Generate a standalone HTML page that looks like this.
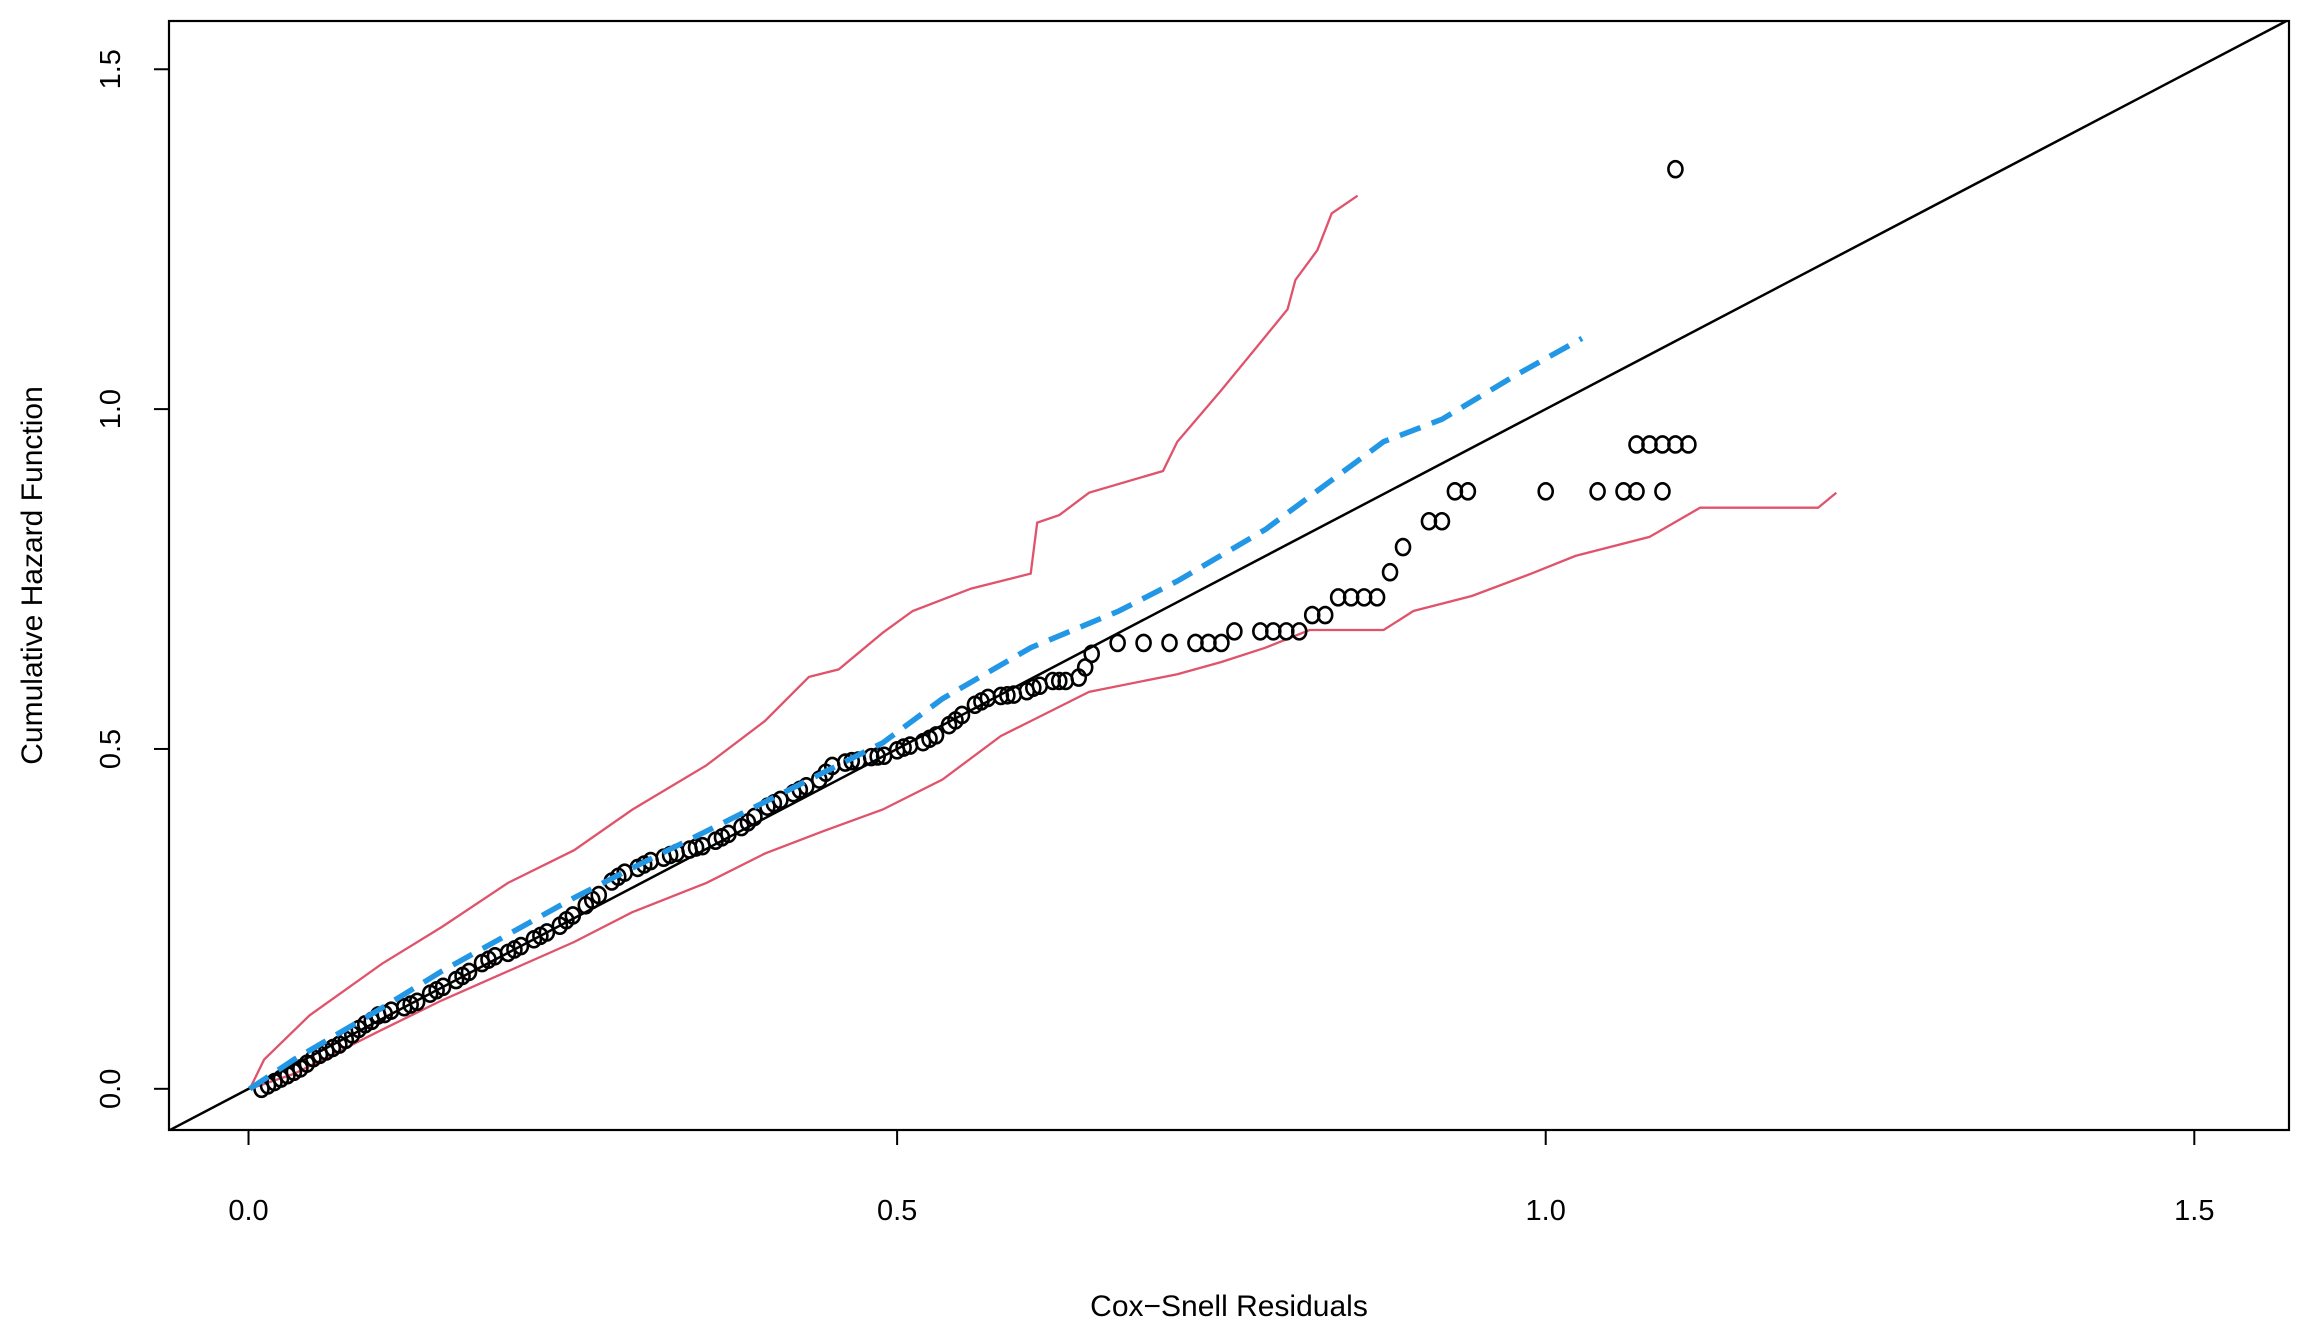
<!DOCTYPE html>
<html><head><meta charset="utf-8"><style>
html,body{margin:0;padding:0;background:#fff;}
svg{display:block;font-family:"Liberation Sans",sans-serif;}
</style></head><body>
<svg id="chart" width="2308" height="1340" viewBox="0 0 2308 1340" xmlns="http://www.w3.org/2000/svg"></svg>
<script>
const xTicks=[0,0.5,1,1.5];
const yTicks=[0,0.5,1,1.5];
const xTickLabels=["0.0","0.5","1.0","1.5"];
const yTickLabels=["0.0","0.5","1.0","1.5"];
const pointsX=[0.01,0.015,0.02,0.025,0.03,0.04,0.05,0.06,0.07,0.08,0.09,0.1,0.11,0.12,0.13,0.14,0.15,0.16,0.17,0.18,0.19,0.2,0.21,0.22,0.23,0.24,0.25,0.26,0.27,0.28,0.29,0.3,0.31,0.32,0.33,0.34,0.35,0.36,0.37,0.38,0.39,0.4,0.41,0.42,0.43,0.44,0.45,0.46,0.47,0.48,0.49,0.5,0.51,0.52,0.53,0.54,0.55,0.56,0.57,0.58,0.59,0.6,0.61,0.62,0.63,0.64,0.65,0.67,0.69,0.71,0.73,0.74,0.75,0.76,0.78,0.79,0.8,0.81,0.82,0.83,0.84,0.85,0.86,0.87,0.88,0.89,0.91,0.92,0.93,0.94,1.0,1.04,1.06,1.07,1.09,1.07,1.08,1.09,1.1,1.11,1.1,
0.035,0.045,0.055,0.065,0.075,0.085,0.095,0.105,0.125,0.145,0.165,0.185,0.205,0.225,0.245,0.265,0.285,0.305,0.325,0.345,0.365,0.385,0.405,0.425,0.445,0.465,0.485,0.505,0.525,0.545,0.565,0.585,0.605,0.625,0.645];
const pointsY=[0.0,0.005,0.01,0.015,0.02,0.03,0.045,0.055,0.065,0.08,0.095,0.108,0.115,0.12,0.128,0.14,0.15,0.16,0.172,0.185,0.195,0.2,0.21,0.22,0.23,0.24,0.255,0.27,0.285,0.305,0.318,0.325,0.335,0.34,0.347,0.352,0.357,0.365,0.375,0.385,0.4,0.415,0.425,0.435,0.445,0.455,0.475,0.48,0.483,0.488,0.49,0.498,0.505,0.51,0.52,0.535,0.55,0.565,0.575,0.578,0.58,0.585,0.593,0.6,0.6,0.605,0.64,0.656,0.656,0.656,0.656,0.656,0.656,0.673,0.673,0.673,0.673,0.673,0.697,0.697,0.723,0.723,0.723,0.723,0.76,0.797,0.835,0.835,0.879,0.879,0.879,0.879,0.879,0.879,0.879,0.948,0.948,0.948,0.948,0.948,1.353,
0.025,0.037,0.05,0.06,0.072,0.088,0.1,0.11,0.124,0.145,0.166,0.19,0.205,0.225,0.248,0.278,0.312,0.33,0.344,0.355,0.37,0.392,0.42,0.44,0.465,0.482,0.489,0.502,0.515,0.542,0.57,0.579,0.59,0.6,0.62];
const upperX=[0.001,0.012,0.047,0.103,0.149,0.2,0.251,0.296,0.353,0.398,0.432,0.455,0.489,0.512,0.557,0.603,0.608,0.625,0.648,0.705,0.716,0.75,0.778,0.801,0.807,0.824,0.835,0.855];
const upperY=[0,0.043,0.108,0.184,0.238,0.303,0.351,0.411,0.476,0.541,0.606,0.617,0.671,0.703,0.736,0.758,0.833,0.844,0.877,0.909,0.952,1.028,1.093,1.147,1.19,1.234,1.288,1.314];
const lowerX=[0.001,0.035,0.103,0.149,0.2,0.251,0.296,0.353,0.398,0.443,0.489,0.535,0.58,0.603,0.648,0.716,0.75,0.784,0.818,0.875,0.898,0.943,0.989,1.023,1.08,1.119,1.21,1.224];
const lowerY=[0,0.022,0.087,0.13,0.173,0.216,0.26,0.303,0.346,0.379,0.411,0.455,0.519,0.541,0.584,0.61,0.628,0.649,0.675,0.675,0.703,0.725,0.758,0.784,0.812,0.855,0.855,0.877];
const blueX=[0.001,0.035,0.103,0.149,0.2,0.251,0.296,0.353,0.398,0.443,0.489,0.535,0.603,0.671,0.716,0.784,0.829,0.875,0.92,0.977,1.028];
const blueY=[0,0.043,0.119,0.173,0.227,0.281,0.325,0.379,0.422,0.465,0.509,0.574,0.649,0.703,0.747,0.823,0.887,0.952,0.985,1.05,1.104];

const NS="http://www.w3.org/2000/svg";
const svg=document.getElementById('chart');
const L=169,T=21,R=2289,B=1130;
const xmin=-0.0613,xmax=1.573,ymin=-0.0606,ymax=1.571;
const sx=v=>L+(v-xmin)/(xmax-xmin)*(R-L);
const sy=v=>B-(v-ymin)/(ymax-ymin)*(B-T);
function mk(tag,attrs,parent){const e=document.createElementNS(NS,tag);for(const k in attrs)e.setAttribute(k,attrs[k]);(parent||svg).appendChild(e);return e;}

const clip=mk('clipPath',{id:'pc'});mk('rect',{x:L,y:T,width:R-L,height:B-T},clip);
const g=mk('g',{'clip-path':'url(#pc)'});



const diag=mk('line',{x1:sx(xmin),y1:sy(xmin),x2:sx(xmax),y2:sy(xmax),stroke:'#000','stroke-width':2.5},g);



function poly(xs,ys,attrs,name){
  const pts=xs.map((x,i)=>sx(x).toFixed(1)+','+sy(ys[i]).toFixed(1));
  const e=mk('polyline',Object.assign({points:pts.join(' '),fill:'none'},attrs),g);
  
  
}
poly(upperX,upperY,{stroke:'#DF536B','stroke-width':2.3},'upper-confidence-band');
poly(lowerX,lowerY,{stroke:'#DF536B','stroke-width':2.3},'lower-confidence-band');

const pg=mk('g',{},g);


pointsX.forEach((x,i)=>{
  const c=mk('ellipse',{cx:sx(x),cy:sy(pointsY[i]),rx:7,ry:8,fill:'none',stroke:'#000','stroke-width':2.6},pg);
  
  
});
poly(blueX,blueY,{stroke:'#2297E6','stroke-width':5.5,'stroke-dasharray':'22 12'},'fitted-hazard-line');

const box=mk('rect',{x:L,y:T,width:R-L,height:B-T,fill:'none',stroke:'#000','stroke-width':2.2});



xTicks.forEach((v,i)=>{
  const t=mk('line',{x1:sx(v),x2:sx(v),y1:B,y2:B+15,stroke:'#000','stroke-width':2});
  
  
  const tx=mk('text',{x:sx(v),y:1220,'font-size':29,'text-anchor':'middle',fill:'#000'});
  tx.textContent=xTickLabels[i];
  
  
});
yTicks.forEach((v,i)=>{
  const t=mk('line',{x1:L-15,x2:L,y1:sy(v),y2:sy(v),stroke:'#000','stroke-width':2});
  
  
  const tx=mk('text',{x:120,y:sy(v),'font-size':29,'text-anchor':'middle',fill:'#000',transform:`rotate(-90 120 ${sy(v)})`});
  tx.textContent=yTickLabels[i];
  
  
});
const xt=mk('text',{x:(L+R)/2,y:1316,'font-size':30,'text-anchor':'middle',fill:'#000'});
xt.textContent='Cox\u2212Snell Residuals';


const yt=mk('text',{x:42,y:(T+B)/2,'font-size':30,'text-anchor':'middle',fill:'#000',transform:`rotate(-90 42 ${(T+B)/2})`});
yt.textContent='Cumulative Hazard Function';


</script>
</body></html>
